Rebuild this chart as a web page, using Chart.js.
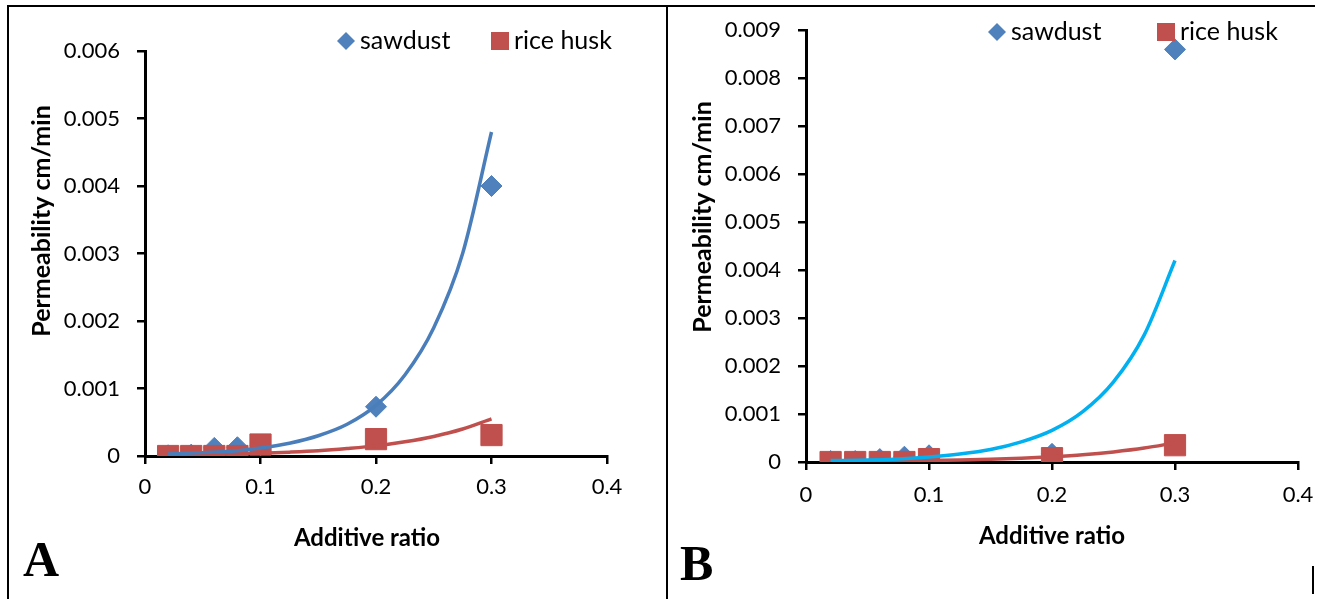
<!DOCTYPE html>
<html>
<head>
<meta charset="utf-8">
<script src="https://cdn.jsdelivr.net/npm/chart.js@4.4.0/dist/chart.umd.min.js"></script>
<style>
  html, body { margin: 0; padding: 0; background: #fff; }
  body { width: 1329px; height: 599px; position: relative; overflow: hidden; }
  canvas { position: absolute; top: 0; }
  #chartA { left: 0; }
  #chartB { left: 668px; }
  .rule { position: absolute; background: #000; }
</style>
</head>
<body>
<canvas id="chartA" width="668" height="599"></canvas>
<canvas id="chartB" width="661" height="599"></canvas>
<div class="rule" style="left:7px;top:5px;width:1308px;height:2px"></div>
<div class="rule" style="left:7px;top:5px;width:2px;height:594px"></div>
<div class="rule" style="left:666px;top:5px;width:2px;height:594px"></div>
<div class="rule" style="left:1312px;top:566px;width:2px;height:28px"></div>
<script>
// additive ratios of the measured samples
const ratios = [0.02, 0.04, 0.06, 0.08, 0.1, 0.2, 0.3];

// panel A measurements (cm/min)
const sawdustA = [0.00001, 0.00002, 0.00012, 0.00013, 0.00016, 0.00073, 0.004];
const riceHuskA = [0, 0, 0, 0, 0.00017, 0.00025, 0.00031];

// panel B measurements (cm/min)
const sawdustB = [0.00002, 0.00002, 0.00006, 0.00011, 0.00014, 0.00017, 0.0086];
const riceHuskB = [0, 0, 0, 0, 0.00006, 0.00008, 0.00035];

// exponential trend lines
const trendX = [0.02, 0.05, 0.075, 0.1, 0.125, 0.15, 0.175, 0.2, 0.225, 0.25, 0.275, 0.3];
const trendSawA = [0.00003, 0.00005, 0.00007, 0.00012, 0.00019, 0.0003, 0.00047, 0.00075, 0.0012, 0.0019, 0.003, 0.0048];
const trendRiceA = [0.000014, 0.000021, 0.000029, 0.000041, 0.000057, 0.000078, 0.00011, 0.00015, 0.00021, 0.00029, 0.0004, 0.00055];
const trendSawB = [0.00003, 0.000041, 0.000065, 0.000104, 0.000165, 0.00026, 0.00042, 0.00066, 0.00105, 0.00167, 0.00265, 0.0042];
const trendRiceB = [0.000011, 0.000016, 0.000022, 0.00003, 0.000042, 0.000058, 0.00008, 0.00011, 0.00015, 0.00021, 0.00029, 0.0004];

// tick labels
const xTicks = ['0', '0.1', '0.2', '0.3', '0.4'];
const yTicksA = ['0', '0.001', '0.002', '0.003', '0.004', '0.005', '0.006'];
const yTicksB = ['0', '0.001', '0.002', '0.003', '0.004', '0.005', '0.006', '0.007', '0.008', '0.009'];

const seriesNames = ['sawdust', 'rice husk'];

const BLUE = '#4F81BD';
const RED = '#C0504D';

const pts = (xs, ys) => xs.map((x, i) => ({ x, y: ys[i] }));

// legend, axis titles and the panel letter
const decor = {
  id: 'decor',
  afterDraw(chart, args, o) {
    const ctx = chart.ctx;
    ctx.save();
    ctx.fillStyle = '#000';
    ctx.textBaseline = 'middle';

    ctx.font = 'bold 24px Lato';
    ctx.textAlign = 'center';
    ctx.fillText(o.xTitle, o.xTitleAt[0], o.xTitleAt[1]);
    ctx.save();
    ctx.translate(o.yTitleAt[0], o.yTitleAt[1]);
    ctx.rotate(-Math.PI / 2);
    ctx.font = 'bold 25px Lato';
    ctx.fillText(o.yTitle, 0, 0);
    ctx.restore();

    // legend
    ctx.font = '25px Lato';
    ctx.textAlign = 'left';
    const [dx, dy] = o.legendDiamond;
    ctx.fillStyle = BLUE;
    ctx.beginPath();
    ctx.moveTo(dx - 9, dy); ctx.lineTo(dx, dy - 9); ctx.lineTo(dx + 9, dy); ctx.lineTo(dx, dy + 9);
    ctx.closePath(); ctx.fill();
    ctx.fillStyle = '#000';
    ctx.fillText(seriesNames[0], dx + 14, dy);
    const [sx, sy] = o.legendSquare;
    ctx.fillStyle = RED;
    ctx.fillRect(sx - 9, sy - 9, 18, 18);
    ctx.fillStyle = '#000';
    ctx.fillText(seriesNames[1], sx + 14, sy);

    ctx.font = 'bold 50px "Liberation Serif"';
    ctx.textBaseline = 'alphabetic';
    ctx.fillText(o.letter, o.letterAt[0], o.letterAt[1]);
    ctx.restore();
  }
};

function makeChart(id, saw, rice, tSaw, tRice, trendColor, yMax, yTicks, box, deco) {
  return new Chart(document.getElementById(id), {
    type: 'scatter',
    data: {
      datasets: [
        { label: 'saw trend', data: pts(trendX, tSaw), showLine: true, pointRadius: 0,
          borderColor: trendColor, borderWidth: 3.5, cubicInterpolationMode: 'monotone', order: 0 },
        { label: 'rice trend', data: pts(trendX, tRice), showLine: true, pointRadius: 0,
          borderColor: RED, borderWidth: 3.5, cubicInterpolationMode: 'monotone', order: 0 },
        { label: seriesNames[1], data: pts(ratios, rice), pointStyle: 'rect', pointRadius: 15,
          backgroundColor: RED, borderColor: RED, borderWidth: 1, order: 1 },
        { label: seriesNames[0], data: pts(ratios, saw), pointStyle: 'rectRot', pointRadius: 10.5,
          backgroundColor: BLUE, borderColor: BLUE, borderWidth: 1, order: 2 }
      ]
    },
    options: {
      responsive: false,
      animation: false,
      devicePixelRatio: 1,
      layout: { padding: box.padding },
      plugins: { legend: { display: false }, tooltip: { enabled: false }, decor: deco },
      scales: {
        x: {
          type: 'linear', min: 0, max: 0.4,
          afterFit: s => { s.height = 60; },
          grid: { drawOnChartArea: false, drawTicks: true, tickLength: 8, color: '#000', lineWidth: 2.5 },
          border: { color: '#000', width: 3 },
          ticks: { stepSize: 0.1, padding: box.xPad, color: '#000', font: { family: 'Lato', size: 22 },
                   maxRotation: 0, callback: (v, i) => xTicks[i] }
        },
        y: {
          type: 'linear', min: 0, max: yMax,
          afterFit: s => { s.width = box.yWidth; },
          grid: { drawOnChartArea: false, drawTicks: true, tickLength: 8, color: '#000', lineWidth: 2.5 },
          border: { color: '#000', width: 3 },
          ticks: { stepSize: 0.001, padding: 17, color: '#000', font: { family: 'Lato', size: 22 },
                   callback: (v, i) => yTicks[i] }
        }
      }
    },
    plugins: [decor]
  });
}

makeChart('chartA', sawdustA, riceHuskA, trendSawA, trendRiceA, '#4A7EBB', 0.006, yTicksA,
  { padding: { left: 0, top: 51, right: 61, bottom: 83 }, yWidth: 145, xPad: 10 },
  { xTitle: 'Additive ratio', xTitleAt: [367, 538], yTitle: 'Permeability cm/min', yTitleAt: [42, 221],
    legendDiamond: [346, 41], legendSquare: [500, 41], letter: 'A', letterAt: [23, 576] });

makeChart('chartB', sawdustB, riceHuskB, trendSawB, trendRiceB, '#00B0F0', 0.009, yTicksB,
  { padding: { left: 0, top: 24, right: 31, bottom: 77 }, yWidth: 138, xPad: 12 },
  { xTitle: 'Additive ratio', xTitleAt: [384, 536], yTitle: 'Permeability cm/min', yTitleAt: [35, 217],
    legendDiamond: [329, 32], legendSquare: [498, 32], letter: 'B', letterAt: [12, 580] });
</script>
</body>
</html>
